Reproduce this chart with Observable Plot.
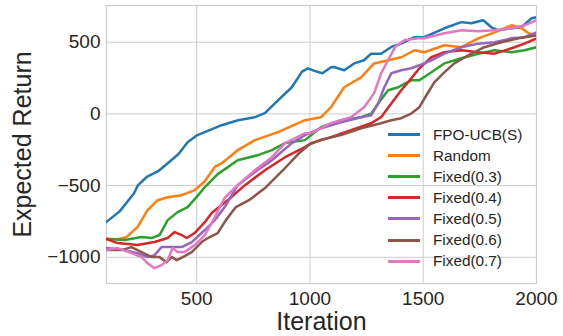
<!DOCTYPE html>
<html>
<head>
<meta charset="utf-8">
<script src="https://cdn.jsdelivr.net/npm/d3@7"></script>
<script src="https://cdn.jsdelivr.net/npm/@observablehq/plot@0.6"></script>
<style>
  html, body { margin: 0; padding: 0; background: #fff; }
  #wrap { position: relative; width: 563px; height: 336px; font-family: "Liberation Sans", Arial, sans-serif; }
  #legend { position: absolute; left: 388px; top: 124px; color: #262626; font-size: 15.3px; }
  #legend .row { display: flex; align-items: center; height: 21.1px; }
  #legend .sw { width: 32px; height: 3px; margin-right: 13px; }
</style>
</head>
<body>
<div id="wrap"><div id="legend"></div></div>
<script>
const seriesNames = ["FPO-UCB(S)", "Random", "Fixed(0.3)", "Fixed(0.4)", "Fixed(0.5)", "Fixed(0.6)", "Fixed(0.7)"];
const seriesColors = ["#1f77b4", "#ff7f0e", "#2ca02c", "#d62728", "#9467bd", "#8c564b", "#e377c2"];
const xTicks = [500, 1000, 1500, 2000];
const yTicks = [-1000, -500, 0, 500];

// [iteration, expected return]
const fpoUcb = [[102,-753],[160,-680],[223,-555],[241,-497],[280,-440],[330,-400],[388,-323],[420,-280],[460,-198],[500,-150],[536,-127],[610,-79],[683,-44],[757,-23],[801,5],[859,95],[920,186],[965,295],[991,318],[1020,300],[1055,283],[1093,325],[1106,327],[1151,304],[1195,352],[1239,374],[1270,420],[1314,420],[1359,467],[1403,490],[1461,535],[1505,535],[1593,597],[1668,640],[1712,632],[1765,653],[1801,604],[1832,583],[1890,597],[1934,604],[1978,667],[2000,674]];
const random = [[102,-870],[150,-875],[190,-860],[239,-790],[283,-672],[328,-602],[372,-581],[434,-567],[491,-532],[536,-470],[580,-370],[611,-344],[681,-253],[757,-183],[859,-127],[978,-44],[1049,-23],[1093,47],[1151,186],[1226,255],[1283,352],[1345,374],[1403,395],[1461,444],[1505,430],[1593,479],[1668,465],[1743,527],[1815,569],[1890,618],[1934,597],[1965,562],[2000,548]];
const fixed03 = [[102,-873],[182,-880],[257,-859],[301,-866],[336,-845],[372,-741],[416,-685],[460,-650],[505,-570],[536,-510],[593,-420],[681,-323],[770,-288],[832,-253],[890,-204],[978,-183],[1049,-93],[1137,-44],[1226,-23],[1270,2],[1301,72],[1345,165],[1390,186],[1447,234],[1483,235],[1536,290],[1593,352],[1668,388],[1743,420],[1815,444],[1890,430],[1947,444],[2000,465]];
const fixed04 = [[102,-873],[151,-901],[239,-915],[314,-894],[372,-866],[403,-824],[434,-845],[456,-866],[491,-831],[536,-755],[567,-690],[637,-602],[713,-497],[801,-393],[890,-302],[978,-232],[1005,-205],[1093,-162],[1181,-113],[1270,-65],[1314,-23],[1359,72],[1403,165],[1447,248],[1483,318],[1536,395],[1593,430],[1668,444],[1743,430],[1815,420],[1890,458],[1947,490],[2000,527]];
const fixed05 = [[102,-936],[182,-950],[239,-971],[283,-999],[314,-985],[345,-929],[390,-929],[434,-929],[478,-894],[536,-810],[580,-741],[624,-650],[681,-497],[757,-406],[832,-323],[920,-204],[978,-148],[1049,-100],[1137,-58],[1226,-23],[1270,-9],[1301,72],[1328,186],[1359,283],[1403,304],[1447,318],[1483,339],[1536,374],[1593,420],[1668,465],[1743,490],[1815,500],[1890,527],[1947,535],[2000,569]];
const fixed06 = [[102,-950],[168,-950],[212,-929],[257,-964],[301,-999],[336,-999],[367,-1034],[390,-999],[412,-1020],[439,-999],[478,-964],[522,-894],[549,-866],[593,-831],[629,-741],[673,-650],[731,-602],[806,-511],[881,-393],[952,-274],[996,-215],[1049,-180],[1137,-148],[1226,-100],[1314,-65],[1359,-44],[1403,-30],[1447,2],[1483,47],[1514,130],[1549,220],[1593,290],[1637,352],[1699,409],[1770,465],[1845,500],[1921,527],[2000,548]];
const fixed07 = [[102,-950],[151,-936],[212,-971],[257,-999],[283,-1041],[314,-1076],[345,-1055],[372,-1020],[394,-936],[416,-964],[447,-964],[491,-915],[536,-845],[580,-720],[624,-585],[681,-497],[757,-393],[832,-302],[890,-204],[978,-135],[1005,-135],[1093,-65],[1181,-23],[1239,47],[1283,143],[1314,283],[1345,374],[1376,467],[1417,514],[1478,527],[1505,527],[1593,562],[1668,583],[1743,576],[1815,583],[1890,597],[1947,618],[2000,653]];

const allSeries = [fpoUcb, random, fixed03, fixed04, fixed05, fixed06, fixed07];
const rows = allSeries.flatMap((s, i) => s.map(([x, y]) => ({series: seriesNames[i], x, y})));

const minus = d => String(d).replace("-", "\u2212");

const chart = Plot.plot({
  width: 563,
  height: 336,
  marginLeft: 106,
  marginRight: 27,
  marginTop: 5,
  marginBottom: 53,
  style: {fontSize: "19px", fontFamily: "'Liberation Sans', Arial, sans-serif", color: "#262626", background: "#fff", overflow: "visible"},
  x: {domain: [102, 2000], ticks: xTicks, tickSize: 0, tickPadding: 8, tickFormat: d => String(d), label: null},
  y: {domain: [-1183, 756], ticks: yTicks, tickSize: 0, tickPadding: 6, tickFormat: minus, label: null},
  color: {domain: seriesNames, range: seriesColors},
  marks: [
    Plot.ruleX(xTicks, {stroke: "#cccccc", strokeWidth: 1}),
    Plot.ruleY(yTicks, {stroke: "#cccccc", strokeWidth: 1}),
    Plot.frame({stroke: "#cccccc", strokeWidth: 1.2}),
    Plot.line(rows, {x: "x", y: "y", z: "series", stroke: "series", strokeWidth: 2.5, clip: true}),
    Plot.text(["Expected Return"], {frameAnchor: "left", textAnchor: "middle", lineAnchor: "middle", dx: -84, rotate: -90, fontSize: 25, fill: "#262626"}),
    Plot.text(["Iteration"], {frameAnchor: "bottom", textAnchor: "middle", lineAnchor: "top", dy: 29, fontSize: 25, fill: "#262626"})
  ]
});
document.getElementById("wrap").prepend(chart);

const legend = document.getElementById("legend");
seriesNames.forEach((name, i) => {
  const row = document.createElement("div");
  row.className = "row";
  const sw = document.createElement("div");
  sw.className = "sw";
  sw.style.background = seriesColors[i];
  const label = document.createElement("span");
  label.textContent = name;
  row.appendChild(sw);
  row.appendChild(label);
  legend.appendChild(row);
});
</script>
</body>
</html>
